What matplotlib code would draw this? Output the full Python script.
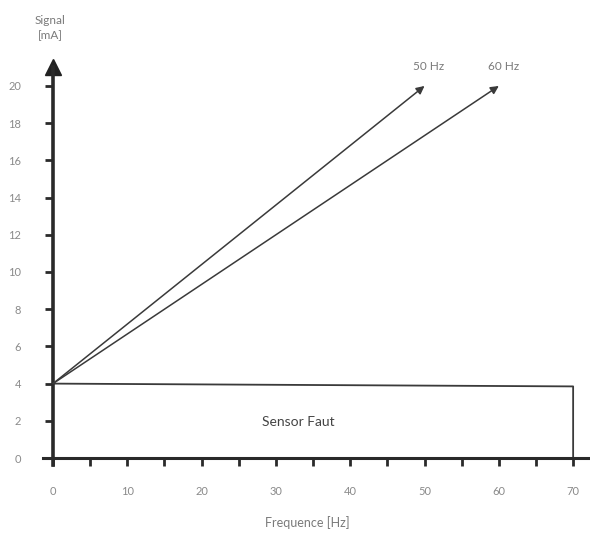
import matplotlib
matplotlib.use("Agg")
import matplotlib.pyplot as plt

plt.rcParams['font.family'] = ['Lato', 'DejaVu Sans']

# data
freq_start = [0, 0]
freq_end = [50, 60]
sig_start = [4, 4]
sig_end = [20, 20]
line_labels = ['50 Hz', '60 Hz']

box_x = [0, 70, 70]
box_y = [4, 3.85, 0]
box_label = 'Sensor Faut'

xticks = [0, 10, 20, 30, 40, 50, 60, 70]
xticks_minor = [5, 15, 25, 35, 45, 55, 65]
yticks = [0, 2, 4, 6, 8, 10, 12, 14, 16, 18, 20]

fig = plt.figure(figsize=(5.9, 5.33), dpi=100)
ax = fig.add_axes([0, 0, 1, 1])
ax.set_xlim(-7.13, 72.27)
ax.set_ylim(-4.03, 24.62)

# axes as spines through origin
for s in ['top', 'right']:
    ax.spines[s].set_visible(False)
ax.spines['left'].set_position(('data', 0))
ax.spines['bottom'].set_position(('data', 0))
ax.spines['left'].set_bounds(-0.4, 21)
ax.spines['bottom'].set_bounds(-1.4, 72.3)
ax.spines['left'].set_linewidth(2.6)
ax.spines['bottom'].set_linewidth(2.2)
ax.spines['left'].set_color('#2a2a2a')
ax.spines['bottom'].set_color('#2a2a2a')

ax.set_xticks(xticks)
ax.set_xticks(xticks_minor, minor=True)
ax.set_yticks(yticks)
ax.set_xticklabels([str(v) for v in xticks])
ax.set_yticklabels([str(v) for v in yticks])
ax.tick_params(axis='x', which='both', direction='out', length=6, width=2,
               color='#2a2a2a', labelcolor='#8a8a8a', labelsize=8, pad=14)
ax.tick_params(axis='y', direction='out', length=6, width=2,
               color='#2a2a2a', labelcolor='#8a8a8a', labelsize=8, pad=17)

# arrow head on y axis
ax.plot([0], [21.0], marker='^', ms=12, color='#222222', clip_on=False)

# frequency lines
for x0, x1, y0, y1, lab in zip(freq_start, freq_end, sig_start, sig_end, line_labels):
    ax.annotate('', xy=(x1, y1), xytext=(x0, y0),
                arrowprops=dict(arrowstyle='-|>', color='#3a3a3a', lw=1.1,
                                mutation_scale=12, shrinkA=0, shrinkB=0))
    ax.text(x1 + 0.6, y1 + 0.75, lab, ha='center', va='bottom',
            fontsize=8.5, color='#7a7a7a')

# sensor fault box
ax.plot(box_x, box_y, color='#3a3a3a', lw=1.3)
ax.text(33, 1.95, box_label, ha='center', va='center', fontsize=10, color='#444444')

# axis titles
ax.text(-0.4, 23.1, 'Signal\n[mA]', ha='center', va='center',
        fontsize=8.5, color='#7a7a7a', linespacing=1.5)
ax.text(34.2, -3.45, 'Frequence [Hz]', ha='center', va='center',
        fontsize=9, color='#7a7a7a')

plt.savefig('out.png', dpi=100)
